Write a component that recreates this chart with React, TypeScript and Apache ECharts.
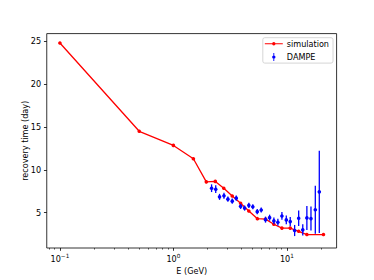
import React, { useEffect, useRef } from "react";
import * as echarts from "echarts";

const simE = [0.1, 0.5, 1.0, 1.5, 1.95, 2.34, 2.78, 3.3, 3.91, 4.62, 5.5, 6.49, 7.67, 9.04, 10.7, 12.7, 15.0, 21.0];
const simT = [24.8, 14.5, 12.85, 11.3, 8.6, 8.65, 7.85, 6.95, 6.1, 5.2, 4.3, 4.25, 3.65, 3.2, 3.2, 2.83, 2.45, 2.45];

const dampeE = [2.17, 2.36, 2.55, 2.79, 3.02, 3.3, 3.58, 3.91, 4.24, 4.62, 5.01, 5.48, 5.94, 6.48, 7.04, 7.68, 8.33, 9.04, 9.88, 10.7, 11.7, 12.7, 13.8, 15.0, 16.3, 17.8, 19.3];
const dampeT = [7.86, 7.74, 6.85, 6.97, 6.58, 6.35, 6.7, 5.74, 5.54, 5.86, 5.69, 5.12, 5.31, 4.19, 4.42, 4.04, 3.89, 4.62, 4.16, 3.96, 2.92, 4.35, 3.0, 4.39, 4.31, 5.35, 7.43];
const dampeErr = [0.45, 0.45, 0.35, 0.35, 0.3, 0.3, 0.3, 0.3, 0.3, 0.3, 0.3, 0.3, 0.3, 0.35, 0.35, 0.4, 0.4, 0.45, 0.5, 0.55, 0.65, 0.9, 0.65, 1.4, 1.4, 2.8, 4.8];

const xMajor = [0.1, 1, 10];
const xMinor = [0.08, 0.09, 0.2, 0.3, 0.4, 0.5, 0.6, 0.7, 0.8, 0.9, 2, 3, 4, 5, 6, 7, 8, 9, 20];
const yTicks = [5, 10, 15, 20, 25];

const FONT = "DejaVu Sans";
const FS = 8.1;

export default function App() {
  const ref = useRef<HTMLDivElement>(null);
  useEffect(() => {
    if (!ref.current) return;
    const chart = echarts.init(ref.current, null, { renderer: "svg" });
    const xMin = Math.pow(10, -1.116);
    const xMax = Math.pow(10, 1.438);
    const supLabel = (v: number) => {
      const e = Math.round(Math.log10(v));
      const s = e < 0 ? "\u2212" + -e : String(e);
      return `{b|10}{s|${s}}`;
    };
    const errIcon =
      "path://M1.1,0 L1.9,0 L1.9,7 L1.1,7 Z M0,3.5 A1.5,1.5 0 1,1 3,3.5 A1.5,1.5 0 1,1 0,3.5 Z";
    const lineIcon =
      "path://M0,3.45 L18,3.45 L18,4.55 L0,4.55 Z M7.3,4 A1.7,1.7 0 1,1 10.7,4 A1.7,1.7 0 1,1 7.3,4 Z";
    const nameStyle = { fontFamily: FONT, fontSize: FS, color: "#000000", opacity: 1 };
    chart.setOption({
      animation: false,
      textStyle: { fontFamily: FONT, color: "#000000" },
      grid: {
        left: 46.75,
        right: 37.4,
        top: 33.6,
        bottom: 30.8,
        show: true,
        borderColor: "#000",
        borderWidth: 0.8,
        backgroundColor: "transparent",
      },
      legend: {
        orient: "vertical",
        right: 41,
        top: 37.7,
        padding: [1, 4, 1, 2],
        itemWidth: 18,
        itemHeight: 8,
        itemGap: 3.4,
        backgroundColor: "rgba(255,255,255,0.8)",
        borderColor: "#cccccc",
        borderWidth: 0.8,
        borderRadius: 2,
        textStyle: { fontFamily: FONT, fontSize: FS, color: "#000", lineHeight: 10, padding: [0, 0, 0, -1] },
        data: [
          { name: "simulation", icon: lineIcon, itemStyle: { color: "#ff0000" } },
          { name: "DAMPE", icon: errIcon, itemStyle: { color: "#0000ff" } },
        ],
      },
      xAxis: [
        {
          type: "log",
          logBase: 10,
          min: xMin,
          max: xMax,
          name: "E (GeV)",
          nameLocation: "middle",
          nameGap: 19,
          nameMoveOverlap: false,
          nameTextStyle: nameStyle,
          axisLine: { show: false, lineStyle: { color: "#000000" } },
          splitLine: { show: false },
          axisTick: {
            show: true,
            inside: false,
            length: 2.8,
            lineStyle: { color: "#000", width: 0.8 },
            customValues: xMajor,
          },
          axisLabel: {
            show: true,
            margin: 5.4,
            color: "#000",
            fontFamily: FONT,
            fontSize: FS,
            customValues: xMajor,
            formatter: supLabel,
            rich: {
              b: { fontFamily: FONT, fontSize: FS, color: "#000" },
              s: { fontFamily: FONT, fontSize: 5.7, color: "#000", padding: [0, 0, 5, 0] },
            },
          },
        },
        {
          type: "log",
          logBase: 10,
          min: xMin,
          max: xMax,
          position: "bottom",
          axisLine: { show: false, lineStyle: { color: "#000000" } },
          splitLine: { show: false },
          axisLabel: { show: false },
          axisTick: {
            show: true,
            inside: false,
            length: 1.6,
            lineStyle: { color: "#000", width: 0.6 },
            customValues: xMinor,
          },
        },
      ],
      yAxis: {
        type: "value",
        min: 0.88,
        max: 25.9,
        name: "recovery time (day)",
        nameLocation: "middle",
        nameGap: 18,
        nameMoveOverlap: false,
        nameRotate: 90,
        nameTextStyle: nameStyle,
        axisLine: { show: false, lineStyle: { color: "#000000" } },
        splitLine: { show: false },
        axisTick: {
          show: true,
          inside: false,
          length: 2.8,
          lineStyle: { color: "#000", width: 0.8 },
          customValues: yTicks,
        },
        axisLabel: {
          show: true,
          margin: 5.7,
          color: "#000",
          fontFamily: FONT,
          fontSize: FS,
          customValues: yTicks,
        },
      },
      series: [
        {
          name: "simulation",
          type: "line",
          xAxisIndex: 0,
          data: simE.map((e, i) => [e, simT[i]]),
          color: "#ff0000",
          lineStyle: { color: "#ff0000", width: 1.3 },
          itemStyle: { color: "#ff0000" },
          symbol: "circle",
          symbolSize: 3.6,
          showSymbol: true,
          z: 2,
        },
        {
          name: "DAMPE",
          type: "custom",
          xAxisIndex: 0,
          color: "#0000ff",
          itemStyle: { color: "#0000ff" },
          data: dampeE.map((e, i) => [e, dampeT[i], dampeErr[i]]),
          encode: { x: 0, y: 1 },
          renderItem: (params: any, api: any) => {
            const x = api.value(0);
            const y = api.value(1);
            const err = api.value(2);
            const top = api.coord([x, y + err]);
            const bot = api.coord([x, y - err]);
            const c = api.coord([x, y]);
            return {
              type: "group",
              children: [
                {
                  type: "line",
                  shape: { x1: top[0], y1: top[1], x2: bot[0], y2: bot[1] },
                  style: { stroke: "#0000ff", lineWidth: 1.3 },
                },
                {
                  type: "circle",
                  shape: { cx: c[0], cy: c[1], r: 1.8 },
                  style: { fill: "#0000ff", stroke: "none" },
                },
              ],
            };
          },
          z: 3,
        },
      ],
    });
    return () => chart.dispose();
  }, []);
  return (
    <div
      ref={ref}
      style={{ position: "fixed", left: 0, top: 0, width: 374, height: 280, background: "#fff" }}
    />
  );
}
